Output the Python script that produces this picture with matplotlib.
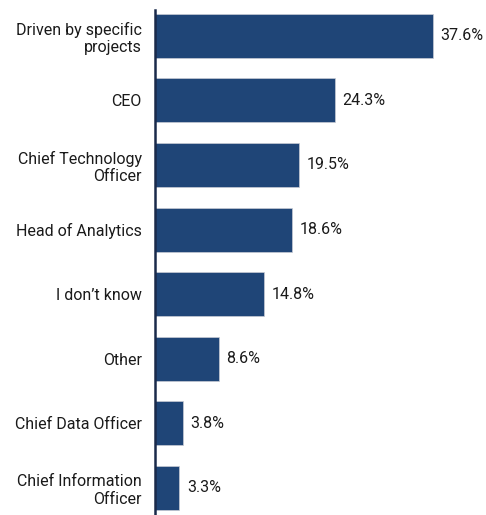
import matplotlib
matplotlib.use("Agg")
import matplotlib.pyplot as plt

categories = [
    "Driven by specific\nprojects",
    "CEO",
    "Chief Technology\nOfficer",
    "Head of Analytics",
    "I don\u2019t know",
    "Other",
    "Chief Data Officer",
    "Chief Information\nOfficer",
]
values = [37.6, 24.3, 19.5, 18.6, 14.8, 8.6, 3.8, 3.3]

plt.rcParams['font.family'] = ['Roboto', 'DejaVu Sans']

fig = plt.figure(figsize=(4.86, 5.15), dpi=100)
ax = fig.add_axes([155 / 486, 0, 331 / 486, 505 / 515])

pos = list(range(len(categories)))
ax.barh(pos, values, height=0.68, color='#1f4577', edgecolor='#c8ccd4', linewidth=0.5)

for y, v in zip(pos, values):
    ax.text(v + 1.0, y, f"{v:.1f}%", va='center', ha='left', fontsize=11.5, color='#1a1a1a')

ax.set_xlim(0, 44.8)
ax.set_ylim(7.42, -0.40)
ax.set_yticks(pos)
ax.set_yticklabels(categories, fontsize=11.5, color='#1a1a1a')
ax.tick_params(axis='y', length=0, pad=9.5)
ax.set_xticks([])

for side in ['top', 'right', 'bottom']:
    ax.spines[side].set_visible(False)
ax.spines['left'].set_color('#1a2a4a')
ax.spines['left'].set_linewidth(1.8)

fig.savefig("out.png", dpi=100)
